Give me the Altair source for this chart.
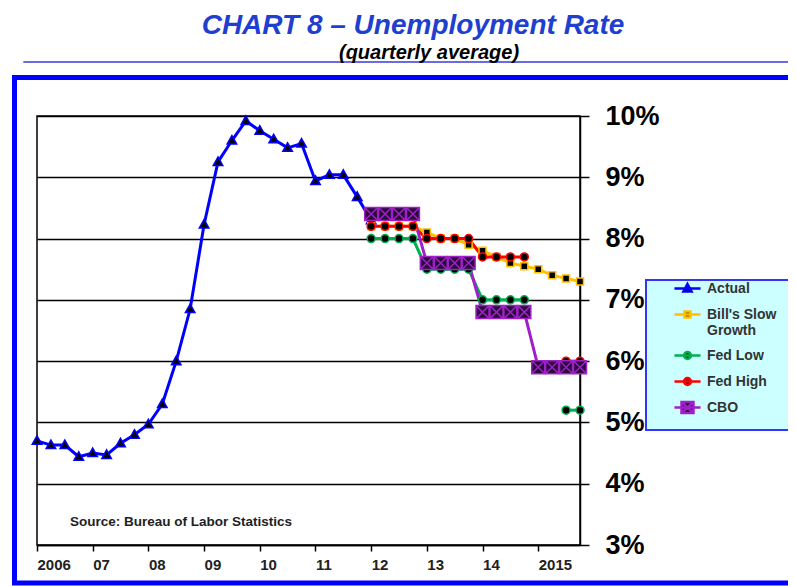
import altair as alt
import pandas as pd

# ---------------- data ----------------
year_ticks = [0, 4, 8, 12, 16, 20, 24, 28, 32, 36]          # quarter index of each Q1 (0 = 2006 Q1)
year_labels = ["2006", "07", "08", "09", "10", "11", "12", "13", "14", "2015"]
y_ticks = [3, 4, 5, 6, 7, 8, 9, 10]

series_names = ["Actual", "Bill's Slow Growth", "Fed Low", "Fed High", "CBO"]
series_colors = ["#0000ff", "#ffc000", "#00b050", "#ff0000", "#a020c8"]
marker_fills = ["#000000", "#000000", "#000000", "#000000", "#2a0b3c"]
marker_stroke_widths = [1.5, 1.5, 1.5, 1.5, 1.0]
series_start = [0, 24, 24, 24, 24]   # first quarter index of each series

actual = [4.70, 4.63, 4.63, 4.44, 4.50, 4.47, 4.66, 4.80,
          4.97, 5.30, 6.00, 6.85, 8.23, 9.25, 9.60, 9.92,
          9.76, 9.62, 9.48, 9.55, 8.94, 9.04, 9.04, 8.68,
          8.30]
bills_slow_growth = [8.2, 8.2, 8.2, 8.2, 8.1, 8.0, 8.0, 7.9,
                     7.8, 7.7, 7.6, 7.55, 7.5, 7.4, 7.35, 7.3]
fed_low = [8.0, 8.0, 8.0, 8.0, 7.5, 7.5, 7.5, 7.5,
           7.0, 7.0, 7.0, 7.0, None, None, 5.2, 5.2]
fed_high = [8.2, 8.2, 8.2, 8.2, 8.0, 8.0, 8.0, 8.0,
            7.7, 7.7, 7.7, 7.7, None, None, 6.0, 6.0]
cbo = [8.4, 8.4, 8.4, 8.4, 7.6, 7.6, 7.6, 7.6,
       6.8, 6.8, 6.8, 6.8, 5.9, 5.9, 5.9, 5.9]
series_values = [actual, bills_slow_growth, fed_low, fed_high, cbo]

rows = []
for name, start, vals in zip(series_names, series_start, series_values):
    seg = 0
    for i, v in enumerate(vals):
        if v is None:
            seg += 1
            continue
        rows.append({"series": name, "q": start + i, "rate": v, "seg": f"{name}-{seg}"})
df = pd.DataFrame(rows)
one = pd.DataFrame({"k": [0]})

# marker paths (plot) and legend paths (line + marker)
point_shapes = [
    "M0,-1L0.95,0.7L-0.95,0.7Z",
    "M-0.7,-0.7H0.7V0.7H-0.7Z",
    "M0.8,0A0.8,0.8,0,1,1,-0.8,0A0.8,0.8,0,1,1,0.8,0Z",
    "M0.8,0A0.8,0.8,0,1,1,-0.8,0A0.8,0.8,0,1,1,0.8,0Z",
    "M-1.3,-1.3H1.3V1.3H-1.3Z M-1.3,-1.3L1.3,1.3 M1.3,-1.3L-1.3,1.3",
]
legend_shapes = [
    "M-0.87,0H0.87 M0,-0.3L0.27,0.2L-0.27,0.2Z",
    "M-0.87,0H0.87 M-0.2,-0.2H0.2V0.2H-0.2Z",
    "M-0.87,0H0.87 M0.23,0A0.23,0.23,0,1,1,-0.23,0A0.23,0.23,0,1,1,0.23,0Z",
    "M-0.87,0H0.87 M0.23,0A0.23,0.23,0,1,1,-0.23,0A0.23,0.23,0,1,1,0.23,0Z",
    "M-0.87,0H0.87 M-0.4,-0.37H0.4V0.37H-0.4Z M-0.4,-0.37L0.4,0.37 M0.4,-0.37L-0.4,0.37",
]

FONT = "Liberation Sans"

label_expr = "[" + ",".join(f"'{l}'" for l in year_labels) + "][indexof([" + \
    ",".join(str(t) for t in year_ticks) + "], datum.value)]"

x_enc = alt.X("q:Q", scale=alt.Scale(domain=[0, 39], nice=False, zero=False),
              axis=alt.Axis(values=year_ticks, labelExpr=label_expr, title=None, grid=False,
                            tickSize=6, tickColor="black", tickWidth=1.5,
                            domainColor="black", domainWidth=1.5,
                            labelFont=FONT, labelFontSize=15, labelFontWeight="bold",
                            labelColor="#222222", labelAlign="left", labelBaseline="top",
                            labelPadding=6, labelFlush=False, labelOverlap=False))
y_enc = alt.Y("rate:Q", scale=alt.Scale(domain=[3, 10], nice=False, zero=False),
              axis=alt.Axis(orient="right", values=y_ticks, labelExpr="datum.value + '%'",
                            title=None, grid=True, gridColor="black", gridWidth=1.5,
                            tickSize=9, tickColor="black", tickWidth=1.5,
                            domainColor="black", domainWidth=1.5,
                            labelFont=FONT, labelFontSize=27, labelFontWeight="bold",
                            labelColor="black", labelPadding=16, labelAlign="left",
                            labelFlush=False, labelOverlap=False))

stroke_scale = alt.Scale(domain=series_names, range=series_colors)
fill_scale = alt.Scale(domain=series_names, range=marker_fills)

# ---------------- decorations ----------------
border = alt.Chart(one).mark_rect(fillOpacity=0, stroke="#0000ff", strokeWidth=5).encode(
    x=alt.value(-22.5), x2=alt.value(790), y=alt.value(-38.5), y2=alt.value(467))
top_rule = alt.Chart(one).mark_rule(stroke="#3a3ae0", strokeWidth=1.5).encode(
    x=alt.value(-13.7), x2=alt.value(790), y=alt.value(-54))
title = alt.Chart(one).mark_text(font=FONT, fontSize=28, fontStyle="italic", fontWeight="bold",
                                 color="#1f3fd0", align="center", baseline="middle").encode(
    x=alt.value(376), y=alt.value(-90), text=alt.value("CHART 8 \u2013 Unemployment Rate"))
subtitle = alt.Chart(one).mark_text(font=FONT, fontSize=20, fontStyle="italic", fontWeight="bold",
                                    color="black", align="center", baseline="middle").encode(
    x=alt.value(392), y=alt.value(-63.5), text=alt.value("(quarterly average)"))
legend_box = alt.Chart(one).mark_rect(fill="#ccffff", stroke="#3333ff", strokeWidth=2).encode(
    x=alt.value(609), x2=alt.value(800), y=alt.value(164), y2=alt.value(314))
source = alt.Chart(one).mark_text(font=FONT, fontSize=13.5, fontWeight="bold", color="#222222",
                                  align="left", baseline="middle").encode(
    x=alt.value(33), y=alt.value(405.5), text=alt.value("Source: Bureau of Labor Statistics"))

# ---------------- data layers ----------------
lines = alt.Chart(df).mark_line(strokeWidth=3).encode(
    x=x_enc, y=y_enc,
    stroke=alt.Stroke("series:N", scale=stroke_scale, legend=None),
    detail="seg:N", order="q:Q")

points = alt.Chart(df).mark_point(filled=True, size=100, opacity=1).encode(
    x=x_enc, y=y_enc,
    stroke=alt.Stroke("series:N", scale=stroke_scale, legend=None),
    fill=alt.Fill("series:N", scale=fill_scale, legend=None),
    strokeWidth=alt.StrokeWidth("series:N", scale=alt.Scale(domain=series_names, range=marker_stroke_widths), legend=None),
    shape=alt.Shape("series:N", scale=alt.Scale(domain=series_names, range=point_shapes), legend=None))

bills_label = "Bill's Slow Growth"
legend = alt.Legend(title=None, orient="none", legendX=634, legendY=156, padding=0,
                    symbolSize=900, symbolStrokeWidth=2.5, rowPadding=1, labelOffset=3,
                    labelFont=FONT, labelFontSize=14, labelFontWeight="bold", labelColor="#333333",
                    labelLimit=300,
                    labelExpr="datum.label == \"" + bills_label + "\" ? [\"Bill's Slow\", 'Growth'] : datum.label")

legend_layer = alt.Chart(df).transform_filter("false").mark_point(filled=True, strokeWidth=2.5, opacity=1).encode(
    stroke=alt.Stroke("series:N", scale=stroke_scale, legend=legend),
    fill=alt.Fill("series:N", scale=fill_scale, legend=legend),
    shape=alt.Shape("series:N", scale=alt.Scale(domain=series_names, range=legend_shapes), legend=legend))

chart = alt.layer(
    border, top_rule, title, subtitle, legend_box, lines, points, legend_layer, source
).resolve_scale(
    stroke="independent", fill="independent", shape="independent"
).properties(
    width=543, height=429,
    autosize=alt.AutoSizeParams(type="none"),
    padding={"left": 29, "top": 108, "right": 208, "bottom": 41},
    background="white",
).configure_view(stroke="black", strokeWidth=1.5)

chart.save("out.html", embed_options={"renderer": "svg", "actions": False})
